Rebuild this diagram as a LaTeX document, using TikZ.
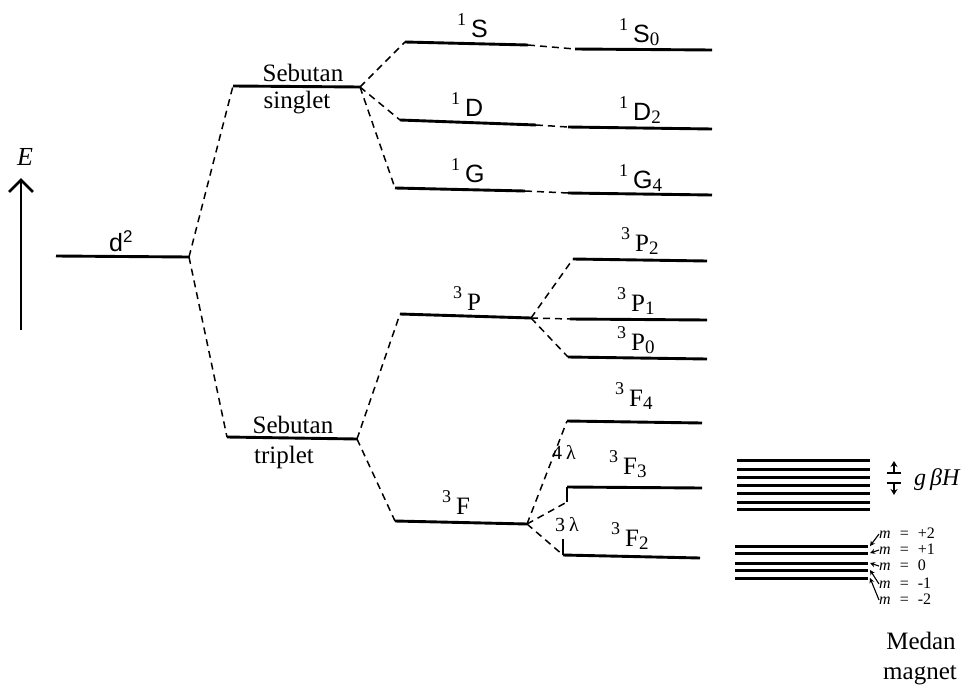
\documentclass[tikz,border=0pt]{standalone}
\usepackage{fontspec}
\setmainfont{Liberation Serif}
\newfontfamily\sansf{Liberation Sans}
\usetikzlibrary{arrows.meta}
\newcommand{\lvl}[4]{{\fontsize{18}{18}\selectfont\raisebox{12pt}{#1}}\hspace{5pt}{#4\fontsize{25}{25}\selectfont #2}{\fontsize{19}{19}\selectfont\raisebox{-3pt}{#3}}}
\newcommand{\mlab}[1]{\fontsize{16}{16}\selectfont\textit{m}\hspace{9pt}=\hspace{9pt}#1}
\begin{document}
\begin{tikzpicture}[x=1pt,y=-1pt,
  lev/.style={line width=2.9pt},
  conn/.style={line width=1.5pt, dash pattern=on 7pt off 5pt},
  zl/.style={line width=3pt},
  tick/.style={line width=2pt},
  lab/.style={anchor=base west, inner sep=0pt},
  txt/.style={font=\fontsize{25}{25}\selectfont, inner sep=0pt},
  mlb/.style={anchor=west, inner sep=0pt, text height=9pt, text depth=1pt},
  marr/.style={line width=1.1pt, -{Stealth[length=5pt,width=5pt]}}]
\useasboundingbox (0,0) rectangle (966,688);
% coordinates
\coordinate (d2L) at (56,256); \coordinate (d2R) at (189,257);
\coordinate (sgL) at (233,86); \coordinate (sgR) at (360,87);
\coordinate (tpL) at (227,437); \coordinate (tpR) at (357,439);
\coordinate (SL) at (405,42); \coordinate (SR) at (528,45);
\coordinate (S0L) at (575,49); \coordinate (S0R) at (712,50);
\coordinate (DL) at (400,120); \coordinate (DR) at (536,125);
\coordinate (D2L) at (568,127); \coordinate (D2R) at (712,129);
\coordinate (GL) at (395,188); \coordinate (GR) at (525,191);
\coordinate (G4L) at (568,193); \coordinate (G4R) at (712,195);
\coordinate (PL) at (400,314); \coordinate (PR) at (531,318);
\coordinate (P2L) at (573,259); \coordinate (P2R) at (707,261);
\coordinate (P1L) at (570,319); \coordinate (P1R) at (707,320);
\coordinate (P0L) at (568,357); \coordinate (P0R) at (707,359);
\coordinate (FL) at (395,521); \coordinate (FR) at (527,524);
\coordinate (F4L) at (567,421); \coordinate (F4R) at (702,423);
\coordinate (F3L) at (567,487); \coordinate (F3R) at (702,488);
\coordinate (F3t) at (567,502);
\coordinate (F2L) at (563,555); \coordinate (F2R) at (700,558);
\coordinate (F2t) at (563,539);
% level lines
\foreach \a/\b in {d2L/d2R,sgL/sgR,tpL/tpR,SL/SR,S0L/S0R,DL/DR,D2L/D2R,GL/GR,G4L/G4R,PL/PR,P2L/P2R,P1L/P1R,P0L/P0R,FL/FR,F4L/F4R,F3L/F3R,F2L/F2R}
  \draw[lev] (\a) -- (\b);
\draw[tick] (F3L) -- (F3t);
\draw[tick] (F2t) -- (F2L);
% connectors
\foreach \a/\b in {d2R/sgL,d2R/tpL,sgR/SL,sgR/DL,sgR/GL,SR/S0L,DR/D2L,GR/G4L,tpR/PL,tpR/FL,PR/P2L,PR/P1L,PR/P0L,FR/F4L,FR/F3t,FR/F2L}
  \draw[conn] (\a) -- (\b);
% energy axis
\coordinate (Ebot) at (21,330); \coordinate (Etop) at (21,178);
\draw[line width=2.8pt,-{Straight Barb[length=12pt,width=24pt,line width=2.8pt]}] (Ebot) -- (Etop);
\node[font=\fontsize{26}{26}\selectfont\itshape] (E) at (25,157) {E};
\node[lab] (d2) at (109,251) {\sansf\fontsize{25}{25}\selectfont d\raisebox{9pt}{\fontsize{17}{17}\selectfont 2}};
% sebutan labels
\node[txt] (seb1) at (303,73) {Sebutan};
\node[txt] (sing) at (297,103) {singlet};
\node[txt] (seb2) at (293,425) {Sebutan};
\node[txt] (trip) at (284,457) {triplet};
% term labels
\node[lab] (lS) at (457,37) {\lvl{1}{S}{}{\sansf}};
\node[lab] (lS0) at (619,42) {\lvl{1}{S}{0}{\sansf}};
\node[lab] (lD) at (451,116) {\lvl{1}{D}{}{\sansf}};
\node[lab] (lD2) at (619,120) {\lvl{1}{D}{2}{\sansf}};
\node[lab] (lG) at (451,182) {\lvl{1}{G}{}{\sansf}};
\node[lab] (lG4) at (619,188) {\lvl{1}{G}{4}{\sansf}};
\node[lab] (lP) at (453,310) {\lvl{3}{P}{}{}};
\node[lab] (lP2) at (621,251) {\lvl{3}{P}{2}{}};
\node[lab] (lP1) at (617,311) {\lvl{3}{P}{1}{}};
\node[lab] (lP0) at (617,350) {\lvl{3}{P}{0}{}};
\node[lab] (lF) at (442,514) {\lvl{3}{F}{}{}};
\node[lab] (lF4) at (615,406) {\lvl{3}{F}{4}{}};
\node[lab] (lF3) at (609,474) {\lvl{3}{F}{3}{}};
\node[lab] (lF2) at (611,546) {\lvl{3}{F}{2}{}};
\node[lab] (l4) at (552,459) {\fontsize{20}{20}\selectfont 4\hspace{4pt}λ};
\node[lab] (l3) at (555,531) {\fontsize{20}{20}\selectfont 3\hspace{4pt}λ};
% Zeeman levels
\foreach \y in {460,469,477,485,493,502,509} \draw[zl] (737,\y) -- (870,\y);
\foreach \y/\n in {546/a,553/b,563/c,570/d,578/e} {
  \draw[zl] (735,\y) -- (868,\y);
  \coordinate (z\n) at (870,\y);
}
% g beta H symbol
\coordinate (gbA) at (894,473); \coordinate (gbB) at (894,483);
\draw[line width=1.6pt] (887,473) -- (901,473) (887,483) -- (901,483);
\draw[line width=1.6pt,-{Stealth[length=6pt,width=7pt]}] (gbA) -- ++(0,-12);
\draw[line width=1.6pt,-{Stealth[length=6pt,width=7pt]}] (gbB) -- ++(0,12);
\node[anchor=west, inner sep=0pt, font=\fontsize{24}{24}\selectfont\itshape] (gbH) at (914,480) {g\,βH};
% m labels
\node[mlb] (m2) at (879,534) {\mlab{+2}};
\node[mlb] (m1) at (879,550) {\mlab{+1}};
\node[mlb] (m0) at (879,566) {\mlab{0}};
\node[mlb] (mm1) at (879,584) {\mlab{-1}};
\node[mlb] (mm2) at (879,600) {\mlab{-2}};
\draw[marr] (m2.west) -- (za);
\draw[marr] (m1.west) -- (zb);
\draw[marr] (m0.west) -- (zc);
\draw[marr] (mm1.west) -- (zd);
\draw[marr] (mm2.west) -- (ze);
% Medan magnet
\node[txt] (med) at (921,641) {Medan};
\node[txt] (mag) at (920,675) {magnet};
\end{tikzpicture}
\end{document}
